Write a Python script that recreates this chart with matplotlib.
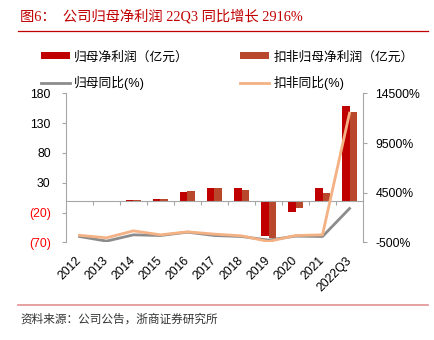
import matplotlib.pyplot as plt
from matplotlib.ticker import FixedLocator

years = ["2012", "2013", "2014", "2015", "2016", "2017", "2018", "2019", "2020", "2021", "2022Q3"]
net_profit = [0.3, -0.8, 0.8, 2.2, 15, 21, 21.5, -59.5, -19, 20.5, 159.5]
net_profit_deducted = [0.3, -0.8, 1.0, 3.0, 17, 21, 18, -62, -13, 12.8, 148]
yoy = [100, -360, 270, 200, 540, 200, 100, -260, 140, 100, 2916]
yoy_deducted = [220, -30, 670, 270, 570, 340, 170, -400, 200, 270, 12500]

left_ticks = [-70, -20, 30, 80, 130, 180]
left_labels = ["(70)", "(20)", "30", "80", "130", "180"]
right_ticks = [-500, 4500, 9500, 14500]
right_labels = ["-500%", "4500%", "9500%", "14500%"]

RED = "#C00000"
BROWN = "#B8472B"
GRAY = "#8C8C8C"
ORANGE = "#F4B183"
AXIS = "#A6A6A6"

plt.rcParams["font.family"] = ["Liberation Sans", "Noto Sans CJK SC"]

fig = plt.figure(figsize=(4.35, 3.40), dpi=100)
ax = fig.add_axes([0.1517, 0.2868, 0.6828, 0.4388])

x = list(range(len(years)))
w = 0.28
b1 = ax.bar([i - w / 2 for i in x], net_profit, width=w, color=RED, label="归母净利润（亿元）")
b2 = ax.bar([i + w / 2 for i in x], net_profit_deducted, width=w, color=BROWN, label="扣非归母净利润（亿元）")

ax.set_xlim(-0.5, len(years) - 0.5)
ax.set_ylim(-70, 180)
ax.set_yticks(left_ticks)
ax.set_yticklabels(left_labels, fontsize=8.8)
for lab, v in zip(ax.get_yticklabels(), left_ticks):
    lab.set_color("#FF0000" if v < 0 else "black")
ax.tick_params(axis="y", length=3, width=0.8, color=AXIS, pad=8)

# category axis runs along zero, with ticks between the groups
ax.spines["bottom"].set_position(("data", 0))
ax.spines["bottom"].set_color(AXIS)
ax.spines["left"].set_color(AXIS)
ax.spines["top"].set_visible(False)
ax.spines["right"].set_visible(False)
ax.xaxis.set_minor_locator(FixedLocator([i + 0.5 for i in x[:-1]]))
ax.tick_params(axis="x", which="minor", length=3, width=0.8, color=AXIS)
ax.set_xticks(x)
ax.set_xticklabels(years, fontsize=8.8, rotation=45, ha="right", va="center",
                   rotation_mode="anchor")
ax.tick_params(axis="x", which="major", length=0, pad=42)

ax2 = ax.twinx()
l1, = ax2.plot(x, yoy, color=GRAY, lw=2, label="归母同比(%)", zorder=2)
l2, = ax2.plot(x, yoy_deducted, color=ORANGE, lw=2, label="扣非同比(%)", zorder=3)
ax2.set_ylim(-500, 14500)
ax2.set_yticks(right_ticks)
ax2.set_yticklabels(right_labels, fontsize=8.8)
ax2.tick_params(axis="y", length=3, width=0.8, color=AXIS, pad=6)
for s in ["top", "bottom", "left"]:
    ax2.spines[s].set_visible(False)
ax2.spines["right"].set_color(AXIS)

fig.legend([b1, l1, b2, l2],
           ["归母净利润（亿元）", "归母同比(%)", "扣非归母净利润（亿元）", "扣非同比(%)"],
           ncol=2, loc="upper left", bbox_to_anchor=(0.094, 0.85), frameon=False,
           fontsize=9.2, borderpad=0, borderaxespad=0, handlelength=2.3,
           handleheight=0.42, handletextpad=0.3, columnspacing=4.0, labelspacing=1.0)

# header and footer
fig.text(0.046, 0.952, "图6：  公司归母净利润 22Q3 同比增长 2916%", color=RED, fontsize=10.3,
         va="center", family=["Liberation Serif", "Noto Sans CJK SC"])
fig.add_artist(plt.Line2D([0.041, 0.984], [0.91, 0.91], color=RED, lw=0.9))
fig.add_artist(plt.Line2D([0.041, 0.984], [0.103, 0.103], color="#E39A9A", lw=1.3))
fig.text(0.046, 0.06, "资料来源：公司公告，浙商证券研究所", color="#333333", fontsize=8.4,
         va="center", family=["Noto Sans CJK SC"])

fig.savefig("out.png", dpi=100)
